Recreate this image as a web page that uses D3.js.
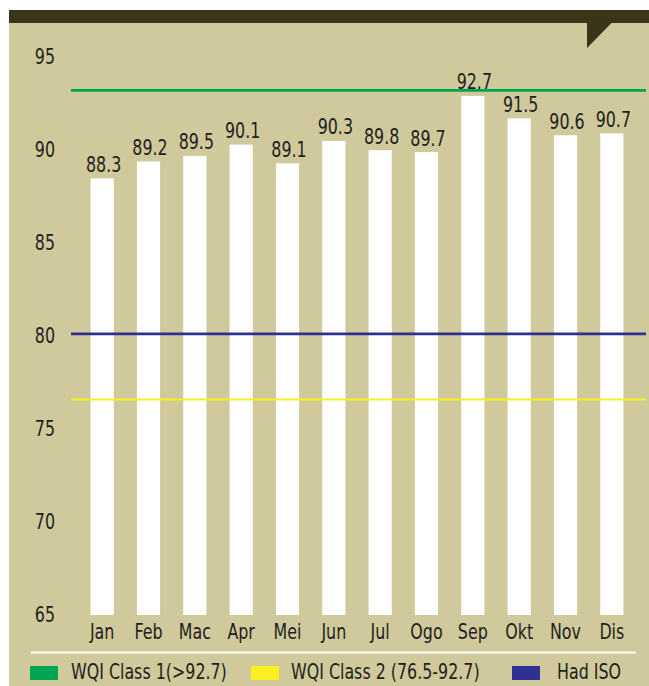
<!DOCTYPE html>
<html>
<head>
<meta charset="utf-8">
<script src="https://cdn.jsdelivr.net/npm/d3@7"></script>
<style>
  html, body { margin: 0; padding: 0; background: #ffffff; }
  svg { display: block; }
  text { font-family: "Liberation Sans Narrow", "DejaVu Sans Condensed", "Arial Narrow", "Roboto Condensed", sans-serif; font-stretch: condensed; fill: #231f20; }
</style>
</head>
<body>
<svg id="chart" width="649" height="686"></svg>
<script>
// ---- data ----
const months = ["Jan","Feb","Mac","Apr","Mei","Jun","Jul","Ogo","Sep","Okt","Nov","Dis"];
const wqiValues = [88.3, 89.2, 89.5, 90.1, 89.1, 90.3, 89.8, 89.7, 92.7, 91.5, 90.6, 90.7];
const yTickValues = [65, 70, 75, 80, 85, 90, 95];
const refNames = ["WQI Class 1(>92.7)", "WQI Class 2 (76.5-92.7)", "Had ISO"];
const refValues = [93.0, 76.5, 80];
const refColors = ["#00a551", "#fcee21", "#2e3192"];

// ---- layout ----
const W = 649, H = 686;
const beige = "#d0c99b", dark = "#3a3519";
const svg = d3.select("#chart");

svg.append("rect").attr("x", 9).attr("y", 10).attr("width", W - 9).attr("height", H - 10).attr("fill", beige);
svg.append("rect").attr("x", 9).attr("y", 10).attr("width", W - 9).attr("height", 13).attr("fill", dark);
svg.append("path").attr("d", "M587,22 L612.5,22 L587,48 Z").attr("fill", dark);

const x = d3.scaleBand().domain(months).range([79, 635]).paddingInner(0.5).paddingOuter(0.25);
const y = d3.scaleLinear().domain([65, 95]).range([615, 52.8]);
const yLab = y.copy().range([614.5, 56.5]);

// y axis labels
const yAxis = d3.axisLeft(yLab).tickValues(yTickValues).tickSize(0).tickPadding(0).tickFormat(d3.format("d"));
const gy = svg.append("g").attr("transform", "translate(55,0)").call(yAxis);
gy.select(".domain").remove();
gy.selectAll("text").attr("font-size", 21).attr("fill", "#231f20");

// bars
svg.append("g").selectAll("rect").data(wqiValues).join("rect")
  .attr("x", (d, i) => x(months[i]))
  .attr("width", x.bandwidth())
  .attr("y", d => y(d))
  .attr("height", d => y(65) - y(d))
  .attr("fill", "#ffffff");

// value labels
svg.append("g").selectAll("text").data(wqiValues).join("text")
  .attr("x", (d, i) => x(months[i]) + x.bandwidth() / 2 + 1.5)
  .attr("y", d => y(d) - 6.5)
  .attr("text-anchor", "middle")
  .attr("font-size", 21)
  .text(d => d.toFixed(1));

// reference lines
svg.append("g").selectAll("line").data(refValues).join("line")
  .attr("x1", 71).attr("x2", 646)
  .attr("y1", d => y(d)).attr("y2", d => y(d))
  .attr("stroke", (d, i) => refColors[i])
  .attr("stroke-width", (d, i) => i === 1 ? 2.2 : 2.8);

// month labels
svg.append("g").selectAll("text").data(months).join("text")
  .attr("x", d => x(d) + x.bandwidth() / 2)
  .attr("y", 639)
  .attr("text-anchor", "middle")
  .attr("font-size", 21)
  .text(d => d);

// legend separator
svg.append("line").attr("x1", 31).attr("x2", 636).attr("y1", 652.5).attr("y2", 652.5)
  .attr("stroke", "#ffffff").attr("stroke-width", 2);

// legend
const legX = [30, 251, 512];
const legTextX = [71, 291, 557];
const leg = svg.append("g");
leg.selectAll("rect").data(refNames).join("rect")
  .attr("x", (d, i) => legX[i]).attr("y", 666)
  .attr("width", 28).attr("height", 14)
  .attr("fill", (d, i) => refColors[i]);
leg.selectAll("text").data(refNames).join("text")
  .attr("x", (d, i) => legTextX[i]).attr("y", 679)
  .attr("font-size", 21)
  .text(d => d);

// condense glyphs horizontally to match the narrow typeface of the original
svg.selectAll("text").each(function () {
  const len = this.getComputedTextLength();
  if (len > 0) {
    this.setAttribute("textLength", (len * 0.84).toFixed(2));
    this.setAttribute("lengthAdjust", "spacingAndGlyphs");
  }
});
</script>
</body>
</html>
